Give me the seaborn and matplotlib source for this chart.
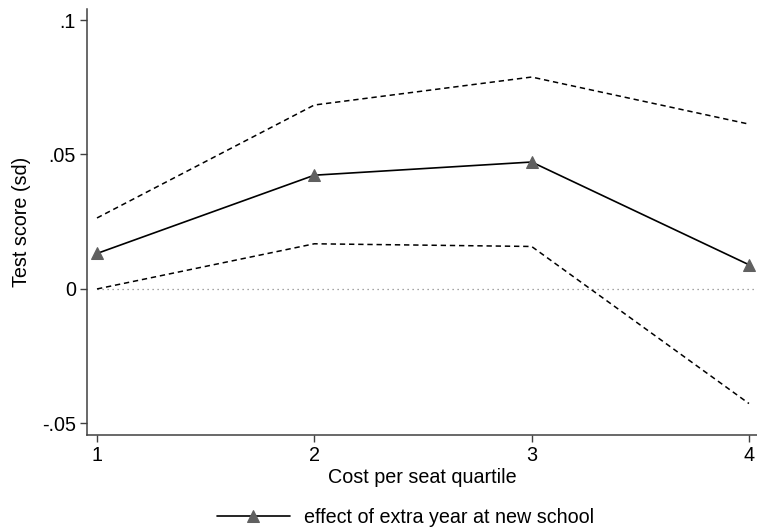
import matplotlib
matplotlib.use("Agg")
import matplotlib.pyplot as plt
import seaborn as sns
import pandas as pd

# Estimated effect by cost-per-seat quartile, with 95% confidence bounds
quartiles = [1, 2, 3, 4]
effect = [0.0132, 0.0423, 0.0472, 0.0090]
upper_ci = [0.0264, 0.0684, 0.0788, 0.0613]
lower_ci = [0.0000, 0.0168, 0.0158, -0.0426]
y_ticks = [-0.05, 0.0, 0.05, 0.1]
y_tick_labels = ["-.05", "0", ".05", ".1"]

df = pd.DataFrame({"quartile": quartiles, "effect": effect,
                   "upper": upper_ci, "lower": lower_ci})

sns.set_theme(style="white")
plt.rcParams["font.family"] = ["Liberation Sans", "DejaVu Sans"]
plt.rcParams["text.color"] = "black"
plt.rcParams["axes.labelcolor"] = "black"

FS = 14.2

fig = plt.figure(figsize=(7.57, 5.30), dpi=100)
ax = fig.add_axes([87 / 757, 95 / 530, 670 / 757, 426 / 530])

xlim = (0.954, 4.037)
ax.set_xlim(*xlim)
ax.set_ylim(-0.0543, 0.1041)

# zero reference line, from the first quartile to the right edge
ax.axhline(0, xmin=(1 - xlim[0]) / (xlim[1] - xlim[0]), xmax=1,
           color="#888888", lw=0.9, ls=(0, (1, 3)), zorder=1)

sns.lineplot(data=df, x="quartile", y="upper", ax=ax, color="black",
             lw=1.1, linestyle=(0, (3.5, 2.5)), zorder=2)
sns.lineplot(data=df, x="quartile", y="lower", ax=ax, color="black",
             lw=1.1, linestyle=(0, (3.5, 2.5)), zorder=2)
sns.lineplot(data=df, x="quartile", y="effect", ax=ax, color="black",
             lw=1.2, zorder=3, label="effect of extra year at new school",
             marker="^", markersize=8, markerfacecolor="#606060",
             markeredgecolor="#606060")

ax.set_xticks(quartiles)
ax.set_xticklabels([str(q) for q in quartiles])
ax.set_yticks(y_ticks)
ax.set_yticklabels(y_tick_labels)
ax.set_xlabel("Cost per seat quartile", fontsize=FS, labelpad=2)
ax.set_ylabel("Test score (sd)", fontsize=FS, labelpad=8)

for side in ("top", "right"):
    ax.spines[side].set_visible(False)
for side in ("left", "bottom"):
    ax.spines[side].set_color("#404040")
    ax.spines[side].set_linewidth(1.1)
ax.tick_params(axis="both", which="major", direction="out", length=5,
               width=1.0, color="#404040", labelcolor="black",
               labelsize=FS, pad=3, left=True, bottom=True)

leg = ax.legend(loc="center", bbox_to_anchor=(0.475, -0.193),
                frameon=False, fontsize=FS, handlelength=3.7,
                handletextpad=0.7, borderaxespad=0, borderpad=0)
for txt in leg.get_texts():
    txt.set_color("black")

fig.savefig("out.png", dpi=100)
